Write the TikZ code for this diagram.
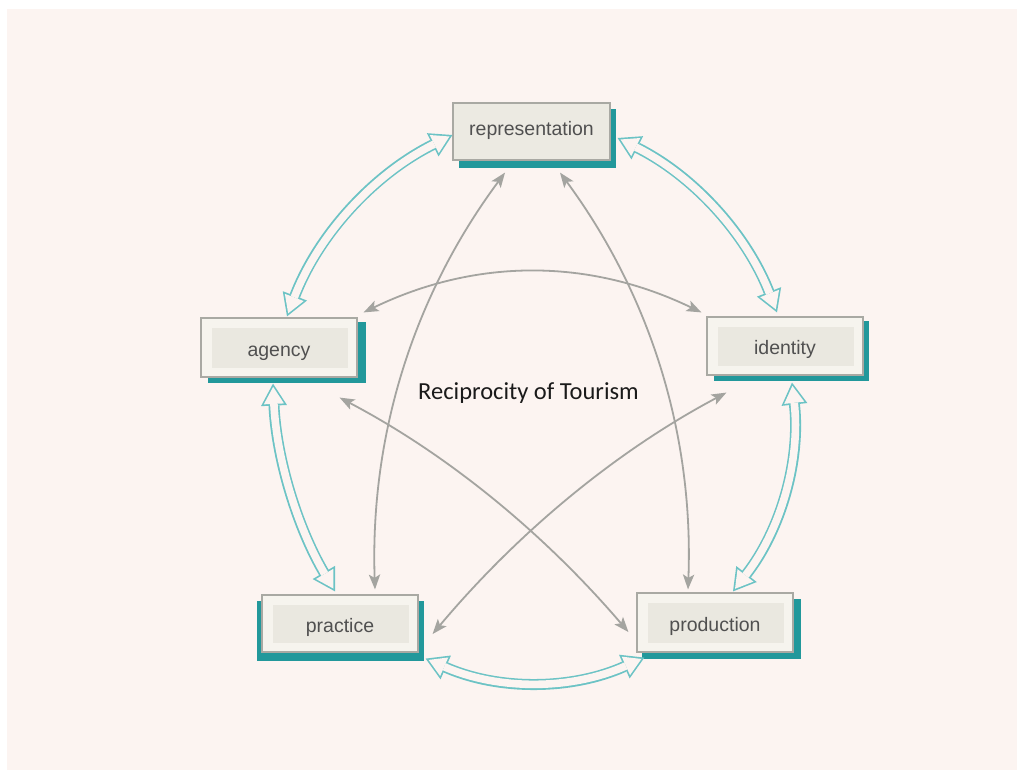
\documentclass[tikz,border=0pt]{standalone}
\usepackage{fontspec}
\usetikzlibrary{arrows.meta,calc}
\newfontfamily\labelfont{Liberation Sans}
\newfontfamily\titlefont{Carlito}
\definecolor{bgc}{HTML}{FCF4F1}
\definecolor{boxfill}{HTML}{F6F4EE}
\definecolor{innerc}{HTML}{EAE8E0}
\definecolor{boxline}{HTML}{A9A9A3}
\definecolor{shadowc}{HTML}{22989B}
\definecolor{tealo}{HTML}{6CC3C5}
\definecolor{grayc}{HTML}{A4A4A0}
\definecolor{labelc}{HTML}{505050}
\definecolor{titlec}{HTML}{1A1A1A}
\pgfdeclarelayer{background}
\pgfsetlayers{background,main}
\tikzset{
  boxbase/.style={draw=boxline, line width=1.2pt, fill=boxfill,
    minimum width=156pt, minimum height=58pt, inner sep=0pt,
    text height=17pt, text depth=0pt,
    font={\labelfont\fontsize{19.5pt}{23pt}\selectfont}, text=labelc},
  box/.style={boxbase,
    path picture={\fill[innerc] ([xshift=11pt,yshift=-10pt]path picture bounding box.north west) rectangle ([xshift=-9pt,yshift=9pt]path picture bounding box.south east);}},
  plainbox/.style={boxbase, fill=innerc!85!boxfill, text height=8pt},
  shadowbox/.style={fill=shadowc},
  garr/.style={draw=grayc, line width=1.8pt,
    >={Stealth[length=15pt,width=11.5pt,inset=3.5pt,line width=0pt]}, <->},
  hout/.style={draw=tealo, line width=11pt,
    >={Triangle[length=22pt,width=26pt,line width=0pt]}, <->},
  hin/.style={draw=bgc, line width=7.6pt, shorten <=3.3pt, shorten >=3.3pt,
    >={Triangle[length=17pt,width=20.2pt,line width=0pt]}, <->}
}
% quadratic curve from #2 via control #3 to #4, as a cubic
\newcommand\qcurve[4]{%
  \draw[#1] (#2) .. controls ($(#2)!0.6667!(#3)$) and ($(#4)!0.6667!(#3)$) .. (#4);}
\newcommand\hollowarrow[3]{\qcurve{hout}{#1}{#2}{#3}\qcurve{hin}{#1}{#2}{#3}}
\begin{document}
\begin{tikzpicture}[x=1pt,y=-1pt]
\useasboundingbox (0,0) rectangle (1017,770);
\begin{pgfonlayer}{background}
\fill[white] (0,0) rectangle (1017,770);
\fill[bgc] (7,9) rectangle (1017,770);
\end{pgfonlayer}

% boxes
\node[plainbox, minimum width=157pt, minimum height=57pt] (rep) at (531.5,131.5) {representation};
\node[box, minimum height=59pt] (agency) at (279,347.5) {agency};
\node[box] (identity) at (785,346) {identity};
\node[box, minimum height=57pt] (practice) at (340,623.5) {practice};
\node[box, minimum height=59pt] (production) at (715,622.5) {production};

\begin{pgfonlayer}{background}
\fill[shadowbox] ([xshift=7pt,yshift=-7pt]rep.north west) rectangle ([xshift=5pt,yshift=-7pt]rep.south east);
\fill[shadowbox] ([xshift=8pt,yshift=-5pt]agency.north west) rectangle ([xshift=8pt,yshift=-5pt]agency.south east);
\fill[shadowbox] ([xshift=8pt,yshift=-5pt]identity.north west) rectangle ([xshift=5pt,yshift=-5pt]identity.south east);
\fill[shadowbox] ([xshift=-4pt,yshift=-7pt]practice.north west) rectangle ([xshift=5pt,yshift=-8pt]practice.south east);
\fill[shadowbox] ([xshift=6pt,yshift=-7pt]production.north west) rectangle ([xshift=7pt,yshift=-6pt]production.south east);
\end{pgfonlayer}

\node[font={\titlefont\fontsize{24.5pt}{28pt}\selectfont}, text=titlec] (title) at (528.5,393) {Reciprocity of Tourism};

% end points
\coordinate (a1) at ([yshift=-3.5pt]rep.west);
\coordinate (a2) at ([xshift=8pt,yshift=1pt]agency.north);
\coordinate (b1) at ([xshift=7pt,yshift=-6.5pt]rep.east);
\coordinate (b2) at ([xshift=-8pt,yshift=4pt]identity.north);
\coordinate (c1) at ([xshift=-6pt,yshift=-6pt]agency.south);
\coordinate (c2) at ([xshift=-5pt,yshift=3pt]practice.north);
\coordinate (d1) at ([xshift=7pt,yshift=-7pt]identity.south);
\coordinate (d2) at ([xshift=18pt,yshift=1pt]production.north);
\coordinate (e1) at ([xshift=7pt,yshift=-6pt]practice.south east);
\coordinate (e2) at ([xshift=8pt,yshift=-5pt]production.south west);
\coordinate (g1s) at ([xshift=-26.5pt,yshift=-12pt]rep.south);
\coordinate (g1e) at ([xshift=35pt,yshift=5pt]practice.north);
\coordinate (g2s) at ([xshift=28.5pt,yshift=-12pt]rep.south);
\coordinate (g2e) at ([xshift=-27pt,yshift=3pt]production.north);
\coordinate (g3s) at ([xshift=6pt,yshift=5pt]agency.north east);
\coordinate (g3e) at ([xshift=-5pt,yshift=4pt]identity.north west);
\coordinate (g4s) at ([xshift=-18pt,yshift=-20pt]agency.south east);
\coordinate (g4e) at ([xshift=-8pt,yshift=-9.5pt]production.west);
\coordinate (g5s) at ([xshift=20pt,yshift=-17pt]identity.south west);
\coordinate (g5e) at ([xshift=14pt,yshift=-10.5pt]practice.east);

% control points
\coordinate (ka) at (334,194);
\coordinate (kb) at (731,194.5);
\coordinate (kc) at (278,494.5);
\coordinate (kd) at (805,499);
\coordinate (ke) at (535,706.5);
\coordinate (k1) at (367.4,358.4);
\coordinate (k2) at (696.6,358.4);
\coordinate (k3) at (532.5,231);
\coordinate (k4) at (500,482);
\coordinate (k5) at (562,480);

% hollow teal double arrows
\hollowarrow{a1}{ka}{a2}
\hollowarrow{b1}{kb}{b2}
\hollowarrow{c1}{kc}{c2}
\hollowarrow{d1}{kd}{d2}
\hollowarrow{e1}{ke}{e2}

% gray double arrows
\qcurve{garr}{g1s}{k1}{g1e}
\qcurve{garr}{g2s}{k2}{g2e}
\qcurve{garr}{g3s}{k3}{g3e}
\qcurve{garr}{g4s}{k4}{g4e}
\qcurve{garr}{g5s}{k5}{g5e}
\end{tikzpicture}
\end{document}
